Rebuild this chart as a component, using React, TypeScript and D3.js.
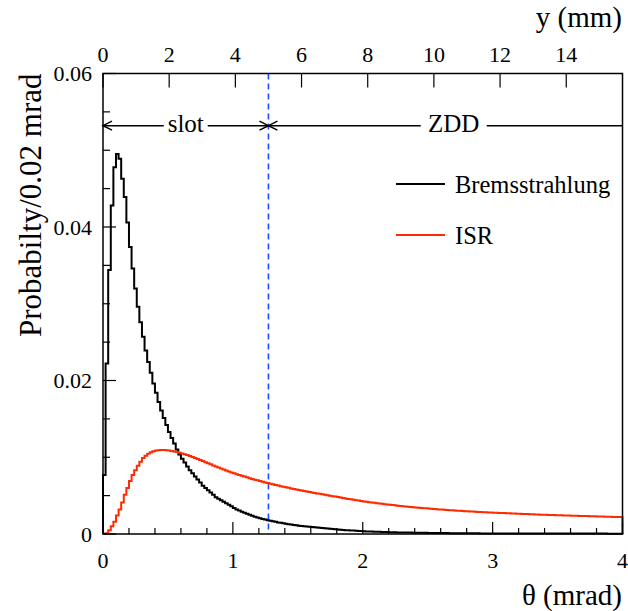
import React from "react";
import * as d3 from "d3";

// ---- Data ----
const binWidth = 0.02; // mrad
const thetaTicks = [0, 1, 2, 3, 4];
const yTicks = [0, 0.02, 0.04, 0.06];
const yTickLabels = ["0", "0.02", "0.04", "0.06"];
const mmTicks = [0, 2, 4, 6, 8, 10, 12, 14];
const mmPerMrad = 3.925;
const slotEdgeMm = 5;
const seriesNames = ["Bremsstrahlung", "ISR"];
const seriesColors = ["#000000", "#ff2a00"];

const bremsValues = [
  0.0077, 0.0222, 0.0344, 0.0428, 0.0478, 0.0495, 0.0489, 0.0463, 0.0439, 0.0406,
  0.0374, 0.0346, 0.032, 0.0296, 0.0276, 0.0257, 0.0239, 0.0224, 0.021, 0.0196,
  0.0184, 0.0172, 0.0161, 0.0151, 0.0142, 0.0133, 0.0125, 0.0118, 0.011, 0.01035,
  0.0098, 0.0093, 0.0088, 0.0083, 0.0079, 0.0075, 0.0071, 0.0067, 0.0063, 0.006,
  0.0057, 0.0054, 0.0051, 0.0048, 0.0046, 0.0044, 0.0042, 0.004, 0.0038, 0.0036,
  0.0034, 0.0032, 0.00305, 0.0029, 0.00277, 0.00264, 0.0025, 0.00238, 0.00226, 0.00215,
  0.00205, 0.00196, 0.00188, 0.0018, 0.00172, 0.00165, 0.00158, 0.00151, 0.00145, 0.00139,
  0.00133, 0.00128, 0.00123, 0.00118, 0.00113, 0.00109, 0.00105, 0.00101, 0.00097, 0.00093,
  0.0009, 0.00087, 0.00084, 0.00081, 0.00078, 0.00074, 0.00071, 0.00068, 0.00065, 0.00062,
  0.00059, 0.00056, 0.00053, 0.0005, 0.00048, 0.00046, 0.00044, 0.00042, 0.0004, 0.00038,
  0.00036, 0.00034, 0.00032, 0.00031, 0.0003, 0.00029, 0.00028, 0.00027, 0.00026, 0.00025,
  0.00024, 0.00023, 0.00022, 0.00021, 0.0002, 0.0002, 0.00019, 0.00018, 0.00018, 0.00017,
  0.00017, 0.00016, 0.00016, 0.00015, 0.00015, 0.00014, 0.00014, 0.00013, 0.00013, 0.00013,
  0.00012, 0.00012, 0.00012, 0.00011, 0.00011, 0.00011, 0.0001, 0.0001, 0.0001, 0.0001,
  0.00009, 0.00009, 0.00009, 0.00009, 0.00009, 0.00008, 0.00008, 0.00008, 0.00008, 0.00008,
  0.00008, 0.00007, 0.00007, 0.00007, 0.00007, 0.00007, 0.00007, 0.00007, 0.00006, 0.00006,
  0.00006, 0.00006, 0.00006, 0.00006, 0.00006, 0.00006, 0.00006, 0.00006, 0.00006, 0.00006,
  0.00006, 0.00006, 0.00005, 0.00005, 0.00005, 0.00005, 0.00005, 0.00005, 0.00005, 0.00005,
  0.00005, 0.00005, 0.00005, 0.00005, 0.00005, 0.00005, 0.00005, 0.00005, 0.00005, 0.00005,
  0.00005, 0.00005, 0.00005, 0.00005, 0.00004, 0.00004, 0.00004, 0.00004, 0.00004, 0.00004,
];

const isrValues = [
  0.00003, 0.0001, 0.0005, 0.001, 0.0016, 0.0024, 0.0032, 0.0041, 0.0051, 0.006,
  0.0069, 0.0077, 0.0083, 0.0089, 0.0094, 0.0099, 0.0102, 0.01045, 0.01065, 0.01078,
  0.01087, 0.01092, 0.01094, 0.01093, 0.01092, 0.01088, 0.01082, 0.01075, 0.01067, 0.01058,
  0.01049, 0.01039, 0.01028, 0.01016, 0.01004, 0.00991, 0.00978, 0.00964, 0.0095, 0.00936,
  0.00922, 0.00908, 0.00894, 0.0088, 0.00866, 0.00852, 0.00839, 0.00826, 0.00814, 0.00802,
  0.0079, 0.00779, 0.00769, 0.00758, 0.00748, 0.00738, 0.00728, 0.00718, 0.00708, 0.00699,
  0.0069, 0.00681, 0.00672, 0.00664, 0.00655, 0.00647, 0.00639, 0.00631, 0.00623, 0.00616,
  0.00608, 0.00601, 0.00594, 0.00587, 0.0058, 0.00573, 0.00566, 0.0056, 0.00553, 0.00547,
  0.00541, 0.00535, 0.00529, 0.00523, 0.00517, 0.00511, 0.00505, 0.00499, 0.00493, 0.00487,
  0.00481, 0.00475, 0.00469, 0.00463, 0.00457, 0.00452, 0.00446, 0.00441, 0.00435, 0.0043,
  0.00425, 0.0042, 0.00415, 0.0041, 0.00406, 0.00401, 0.00397, 0.00393, 0.00389, 0.00385,
  0.00381, 0.00377, 0.00373, 0.00369, 0.00366, 0.00362, 0.00359, 0.00355, 0.00352, 0.00349,
  0.00346, 0.00343, 0.0034, 0.00337, 0.00334, 0.00331, 0.00328, 0.00326, 0.00323, 0.0032,
  0.00318, 0.00315, 0.00313, 0.00311, 0.00308, 0.00306, 0.00304, 0.00302, 0.003, 0.00298,
  0.00296, 0.00294, 0.00292, 0.0029, 0.00288, 0.00286, 0.00285, 0.00283, 0.00281, 0.0028,
  0.00278, 0.00276, 0.00275, 0.00273, 0.00272, 0.0027, 0.00269, 0.00267, 0.00266, 0.00264,
  0.00263, 0.00262, 0.0026, 0.00259, 0.00258, 0.00256, 0.00255, 0.00254, 0.00252, 0.00251,
  0.0025, 0.00249, 0.00248, 0.00246, 0.00245, 0.00244, 0.00243, 0.00242, 0.00241, 0.0024,
  0.00239, 0.00238, 0.00237, 0.00236, 0.00235, 0.00234, 0.00233, 0.00232, 0.00231, 0.0023,
  0.00229, 0.00228, 0.00227, 0.00226, 0.00225, 0.00224, 0.00223, 0.00222, 0.00221, 0.0022,
];

const W = 628;
const H = 611;
const FONT = "'Liberation Serif', 'Times New Roman', Times, 'DejaVu Serif', serif";

const L = 103, R = 622.5, T = 73.5, B = 534;

function histPoints(vals: number[]): [number, number][] {
  const pts: [number, number][] = [[0, 0]];
  vals.forEach((v, i) => pts.push([i * binWidth, v]));
  pts.push([vals.length * binWidth, 0]);
  return pts;
}

export default function App() {
  const x = d3.scaleLinear().domain([0, 4]).range([L, R]);
  const y = d3.scaleLinear().domain([0, 0.06]).range([B, T]);
  const xmm = d3.scaleLinear().domain([0, 4 * mmPerMrad]).range([L, R]);

  const line = d3
    .line<[number, number]>()
    .x((d) => x(d[0]))
    .y((d) => y(d[1]))
    .curve(d3.curveStepAfter);

  const xMinor = d3.range(0, 4.0001, 0.2);
  const yMinor = d3.range(0, 0.06001, 0.005);

  const slotX = xmm(slotEdgeMm);
  const arrowY = y(0.0532);
  const zddCenter = xmm(10.6);
  const slotCenter = (L + slotX) / 2;

  const series = [bremsValues, isrValues];
  const ts = { fontFamily: FONT };

  return (
    <svg
      width={W}
      height={H}
      style={{ position: "absolute", left: 0, top: 0, display: "block", background: "#fff", fontFamily: FONT }}
    >
      <rect x={0} y={0} width={W} height={H} fill="#fff" />

      {/* dashed slot boundary */}
      <line x1={slotX} x2={slotX} y1={T} y2={B} stroke="#1f4dff" strokeWidth={1.6} strokeDasharray="6,4" />

      {/* histograms */}
      {series.map((vals, k) => (
        <path key={k} d={line(histPoints(vals)) || ""} fill="none" stroke={seriesColors[k]} strokeWidth={2} strokeLinejoin="miter" />
      ))}

      {/* frame */}
      <rect x={L} y={T} width={R - L} height={B - T} fill="none" stroke="#000" strokeWidth={1.5} />

      {/* bottom ticks */}
      {xMinor.map((t, i) => {
        const major = Math.abs(t - Math.round(t)) < 1e-6;
        return <line key={"xm" + i} x1={x(t)} x2={x(t)} y1={B} y2={B - (major ? 12 : 6)} stroke="#000" strokeWidth={1.2} />;
      })}
      {thetaTicks.map((t) => (
        <text key={"xl" + t} style={ts} x={x(t)} y={568} fontSize={22} textAnchor="middle">{t}</text>
      ))}

      {/* left ticks */}
      {yMinor.map((v, i) => {
        const major = i % 4 === 0;
        return <line key={"ym" + i} x1={L} x2={L + (major ? 13 : 7)} y1={y(v)} y2={y(v)} stroke="#000" strokeWidth={1.2} />;
      })}
      {yTicks.map((v, i) => (
        <text key={"yl" + i} style={ts} x={92} y={y(v)} dy="0.35em" fontSize={22} textAnchor="end">{yTickLabels[i]}</text>
      ))}

      {/* top mm axis */}
      {mmTicks.map((m) => (
        <g key={"mm" + m}>
          <line x1={xmm(m)} x2={xmm(m)} y1={T} y2={T + 14} stroke="#000" strokeWidth={1.2} />
          <text style={ts} x={xmm(m)} y={62} fontSize={22} textAnchor="middle">{m}</text>
        </g>
      ))}

      {/* axis titles */}
      <text style={ts} x={622} y={27} fontSize={29} textAnchor="end">y (mm)</text>
      <text style={ts} x={622} y={605} fontSize={29} textAnchor="end">θ (mrad)</text>
      <text style={ts} transform={`translate(41, ${T}) rotate(-90)`} fontSize={31} textAnchor="end">Probabilty/0.02 mrad</text>

      {/* slot / ZDD arrows */}
      <g stroke="#000" strokeWidth={1.5} fill="none">
        <line x1={L} x2={R} y1={arrowY} y2={arrowY} />
        <path d={`M${L + 9},${arrowY - 4.5} L${L},${arrowY} L${L + 9},${arrowY + 4.5}`} />
        <path d={`M${slotX - 9},${arrowY - 4.5} L${slotX},${arrowY} L${slotX - 9},${arrowY + 4.5}`} />
        <path d={`M${slotX + 9},${arrowY - 4.5} L${slotX},${arrowY} L${slotX + 9},${arrowY + 4.5}`} />
      </g>
      <rect x={slotCenter - 22} y={arrowY - 10} width={44} height={20} fill="#fff" />
      <text style={ts} x={slotCenter} y={132} fontSize={25} textAnchor="middle">slot</text>
      <rect x={zddCenter - 33} y={arrowY - 10} width={66} height={20} fill="#fff" />
      <text style={ts} x={zddCenter} y={132} fontSize={25} textAnchor="middle">ZDD</text>

      {/* legend */}
      {seriesNames.map((name, k) => {
        const ly = [184, 235][k];
        return (
          <g key={name}>
            <line x1={396} x2={445} y1={ly} y2={ly} stroke={seriesColors[k]} strokeWidth={2} />
            <text style={ts} x={455} y={ly + 9} fontSize={24.5}>{name}</text>
          </g>
        );
      })}
    </svg>
  );
}
